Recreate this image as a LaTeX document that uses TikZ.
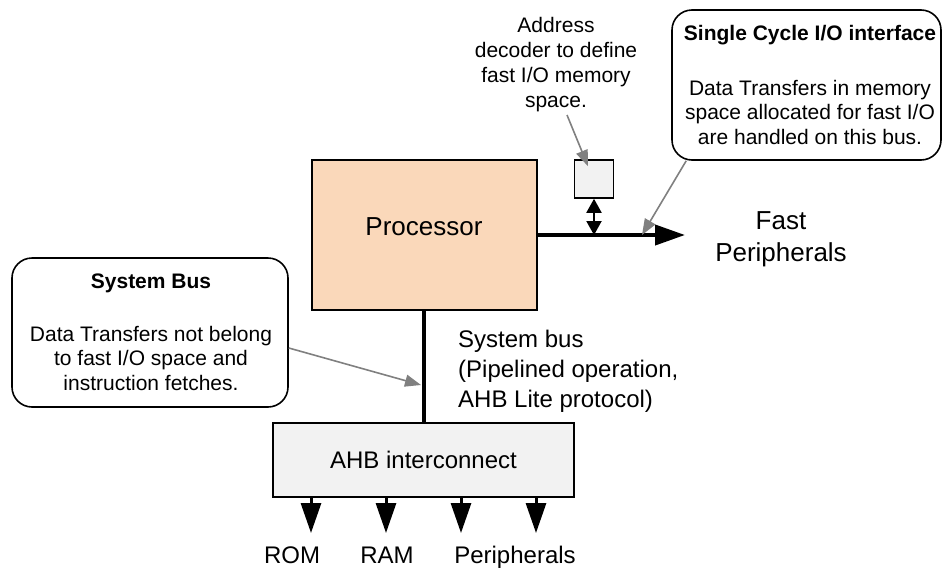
\documentclass[tikz,border=0pt]{standalone}
\usepackage{fontspec}
\setmainfont{Liberation Sans}
\usetikzlibrary{arrows.meta,calc}
\definecolor{proc}{RGB}{250,216,186}
\definecolor{boxgray}{RGB}{242,242,242}
\definecolor{pointergray}{RGB}{128,128,128}
\begin{document}
\begin{tikzpicture}[x=1pt,y=-1pt,
  blk/.style={draw=black, line width=1.6pt, inner sep=0pt},
  callout/.style={draw=black, line width=1.6pt, rounded corners=20pt, inner sep=0pt},
  bus/.style={line width=4pt},
  busarrow/.style={line width=4pt,-{Triangle[length=30pt,width=20pt]}},
  outarrow/.style={line width=3pt,-{Triangle[length=30pt,width=20pt]}},
  dblarrow/.style={line width=2pt,{Triangle[length=14pt,width=15pt]}-{Triangle[length=14pt,width=15pt]}},
  pointer/.style={draw=pointergray, line width=1.6pt, -{Triangle[length=16pt,width=12pt]}},
  bigtxt/.style={font=\fontsize{24}{30}\selectfont, inner sep=0pt},
  hugetxt/.style={font=\fontsize{26}{32}\selectfont, inner sep=0pt},
  smalltxt/.style={font=\fontsize{21}{24.5}\selectfont, inner sep=0pt, align=center},
  titletxt/.style={font=\fontsize{21}{24.5}\selectfont\bfseries, inner sep=0pt},
]
\useasboundingbox (0,0) rectangle (942,568);

% Processor
\node[blk, fill=proc, minimum width=225pt, minimum height=150pt] (proc) at (424.5,235) {};
\node[hugetxt, anchor=base] (proclbl) at (424,235) {Processor};

% Address decoder
\node[blk, fill=boxgray, minimum width=39pt, minimum height=38pt] (dec) at (594,179) {};
\node[smalltxt, font=\fontsize{21}{25}\selectfont, anchor=base] (addr) at (556,107) {Address\\decoder to define\\fast I/O memory\\space.};

% Fast bus
\coordinate (fastend) at (685,235);
\draw[busarrow] (proc.east) -- (fastend);
\draw[dblarrow] (dec.south) -- (dec.south |- proc.east);
\node[hugetxt, align=center, anchor=base] (fast) at (781,261) {Fast\\Peripherals};

% AHB interconnect
\node[blk, fill=boxgray, minimum width=301pt, minimum height=74pt, bigtxt] (ahb) at (423.5,460) {AHB interconnect};
\draw[bus] (ahb.north |- proc.south) -- (ahb.north);
\node[bigtxt, align=left, anchor=base west] (sysbus) at (458,407) {System bus\\(Pipelined operation,\\AHB Lite protocol)};

% Outputs
\coordinate (o1) at (311,533);
\coordinate (o2) at (386,533);
\coordinate (o3) at (461,533);
\coordinate (o4) at (536,533);
\foreach \o in {o1,o2,o3,o4}{
  \draw[outarrow] (\o |- ahb.south) -- (\o);
}
\node[bigtxt, anchor=base] (rom) at (292,563) {ROM};
\node[bigtxt, anchor=base] (ram) at (387,563) {RAM};
\node[bigtxt, anchor=base] (per) at (515,563) {Peripherals};

% Callout: single cycle
\node[callout, minimum width=269pt, minimum height=150pt] (sc) at (806.5,85) {};
\node[titletxt, anchor=base] (sctitle) at (810,40) {Single Cycle I/O interface};
\node[smalltxt, anchor=base] (scbody) at (810,144) {Data Transfers in memory\\space allocated for fast I/O\\are handled on this bus.};

% Callout: system bus
\node[callout, minimum width=276pt, minimum height=149pt] (sb) at (150,332.5) {};
\node[titletxt, anchor=base] (sbtitle) at (151,288) {System Bus};
\node[smalltxt, anchor=base] (sbbody) at (151,390) {Data Transfers not belong\\to fast I/O space and\\instruction fetches.};

% Pointers
\coordinate (p1) at (642,235);
\coordinate (p2) at (421,385);
\coordinate (a1) at (567,115);
\draw[pointer] (a1) -- ($(dec.north)+(-6,7)$);
\draw[pointer] ($(sc.south west)+(15,0)$) -- (p1);
\draw[pointer] ($(sb.east)+(0,15.5)$) -- (p2);
\end{tikzpicture}
\end{document}
